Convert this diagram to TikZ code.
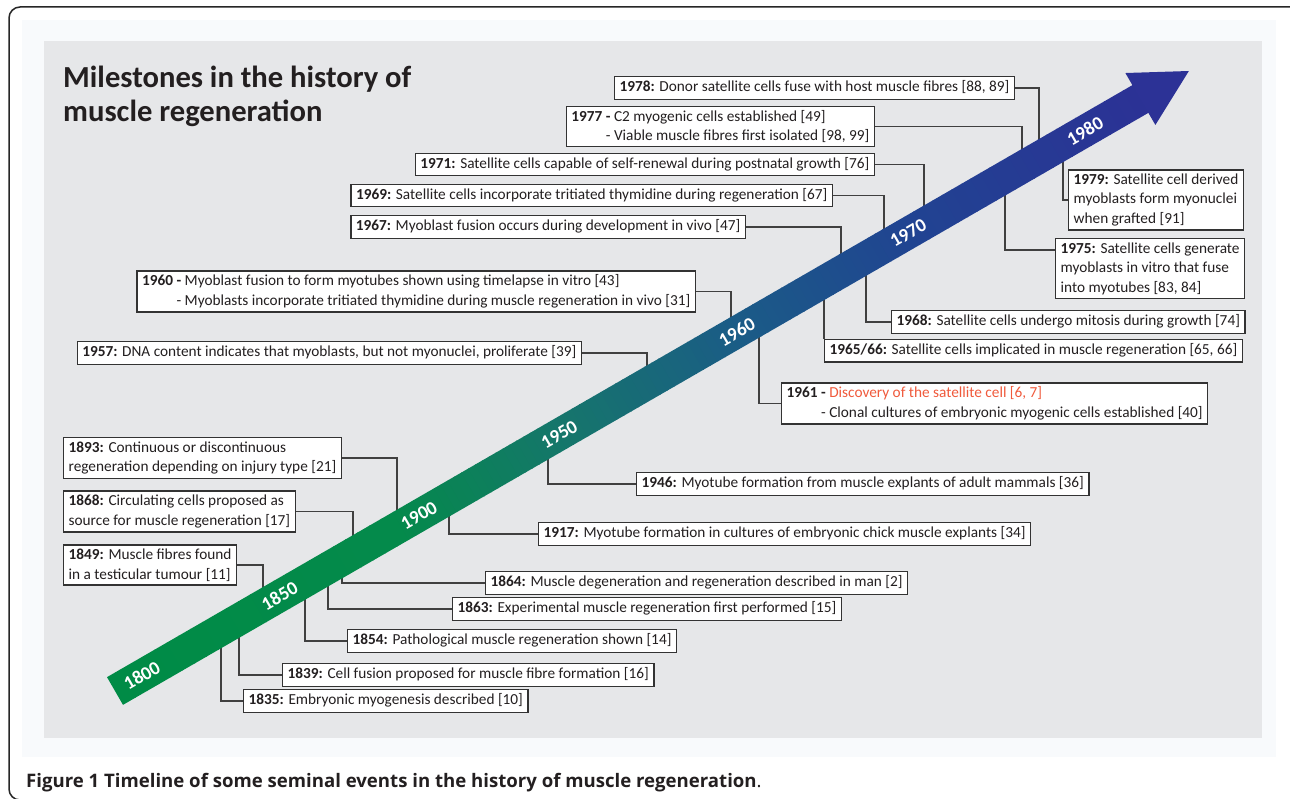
\documentclass[tikz,border=0pt]{standalone}
\usepackage{fontspec}
\setmainfont{Carlito}
\newfontfamily\capfont{Open Sans}
\definecolor{panelgray}{RGB}{230,231,233}
\definecolor{panellight}{RGB}{248,250,252}
\definecolor{discred}{RGB}{240,90,60}
\definecolor{headblue}{RGB}{44,50,150}
\definecolor{ink}{RGB}{35,31,32}
\newcommand\bandseg[8]{%
  \foreach \k in {0,...,23}{%
    \pgfmathsetmacro\ta{#1+(#2-#1)*\k/24}%
    \pgfmathsetmacro\tb{#1+(#2-#1)*(\k+1)/24+0.8}%
    \pgfmathtruncatemacro\cR{#3+(#6-#3)*(\k+0.5)/24}%
    \pgfmathtruncatemacro\cG{#4+(#7-#4)*(\k+0.5)/24}%
    \pgfmathtruncatemacro\cB{#5+(#8-#5)*(\k+0.5)/24}%
    \definecolor{bandc}{RGB}{\cR,\cG,\cB}%
    \fill[bandc] (\ta,-16) rectangle (\tb,16);
  }%
}
\begin{document}
\begin{tikzpicture}[x=1pt,y=-1pt,
  evt/.style={draw=black!80, line width=1.3pt, fill=white, text=ink, font=\fontsize{15.3}{19.5}\selectfont, inner xsep=5pt, inner ysep=4pt, align=left},
  evtone/.style={draw=black!80, line width=1.3pt, fill=white, text=ink, font=\fontsize{15.3}{19.5}\selectfont, inner xsep=5pt, inner ysep=4pt, text height=11pt, text depth=3.5pt},
  conn/.style={draw=black!75, line width=1.3pt},
  yr/.style={text=white, font=\fontsize{19}{19}\selectfont\bfseries, rotate=30, inner sep=0pt}]
\useasboundingbox (0,0) rectangle (1290,799);
\fill[white] (0,0) rectangle (1290,799);
\draw[line width=1.5pt, black!85, rounded corners=11pt] (9,7) rectangle (1320,800);
\fill[panellight] (22,20) rectangle (1276,757);
\fill[panelgray] (44,41) rectangle (1262,738);

\node[anchor=base west, align=left, inner sep=0pt, font=\fontsize{30.6}{34}\selectfont\bfseries, text=ink] (title) at (63,122) {Milestones in the history of\\muscle regeneration};

% event boxes above-left
\node[evtone, anchor=east] (b1978) at (1015,88) {\textbf{1978:} Donor satellite cells fuse with host muscle fibres [88, 89]};
\node[evt, anchor=east] (b1977) at (875,126.5) {\textbf{1977 -} C2 myogenic cells established [49]\\\phantom{\textbf{1977 -} }\llap{- }Viable muscle fibres first isolated [98, 99]};
\node[evtone, anchor=east] (b1971) at (875,164.5) {\textbf{1971:} Satellite cells capable of self-renewal during postnatal growth [76]};
\node[evtone, anchor=east] (b1969) at (833,195.5) {\textbf{1969:} Satellite cells incorporate tritiated thymidine during regeneration [67]};
\node[evtone, anchor=east] (b1967) at (746,227) {\textbf{1967:} Myoblast fusion occurs during development in vivo [47]};
\node[evt, anchor=east] (b1960) at (696,291.5) {\textbf{1960 -} Myoblast fusion to form myotubes shown using timelapse in vitro [43]\\\phantom{\textbf{1960 -} }\llap{- }Myoblasts incorporate tritiated thymidine during muscle regeneration in vivo [31]};
\node[evtone, anchor=east] (b1957) at (582,353) {\textbf{1957:} DNA content indicates that myoblasts, but not myonuclei, proliferate [39]};
\node[evt, anchor=west] (b1893) at (63,458) {\textbf{1893:} Continuous or discontinuous\\regeneration depending on injury type [21]};
\node[evt, anchor=west] (b1868) at (63,511.5) {\textbf{1868:} Circulating cells proposed as\\source for muscle regeneration [17]};
\node[evt, anchor=west] (b1849) at (63,565) {\textbf{1849:} Muscle fibres found\\in a testicular tumour [11]};

% event boxes below-right
\node[evtone, anchor=west] (b1835) at (243,701) {\textbf{1835:} Embryonic myogenesis described [10]};
\node[evtone, anchor=west] (b1839) at (282,675) {\textbf{1839:} Cell fusion proposed for muscle fibre formation [16]};
\node[evtone, anchor=west] (b1854) at (347,641) {\textbf{1854:} Pathological muscle regeneration shown [14]};
\node[evtone, anchor=west] (b1863) at (452,609) {\textbf{1863:} Experimental muscle regeneration first performed [15]};
\node[evtone, anchor=west] (b1864) at (485,583) {\textbf{1864:} Muscle degeneration and regeneration described in man [2]};
\node[evtone, anchor=west] (b1917) at (538,534) {\textbf{1917:} Myotube formation in cultures of embryonic chick muscle explants [34]};
\node[evtone, anchor=west] (b1946) at (636,484) {\textbf{1946:} Myotube formation from muscle explants of adult mammals [36]};
\node[evt, anchor=west] (b1961) at (781,403.5) {\textbf{1961 -} \textcolor{discred}{Discovery of the satellite cell [6, 7]}\\\phantom{\textbf{1961 -} }\llap{- }Clonal cultures of embryonic myogenic cells established [40]};
\node[evtone, anchor=north west] (b1965) at (824,339) {\textbf{1965/66:} Satellite cells implicated in muscle regeneration [65, 66]};
\node[evtone, anchor=west] (b1968) at (891,322) {\textbf{1968:} Satellite cells undergo mitosis during growth [74]};
\node[evt, anchor=north west] (b1975) at (1055,238) {\textbf{1975:} Satellite cells generate\\myoblasts in vitro that fuse\\into myotubes [83, 84]};
\node[evt, anchor=west] (b1979) at (1068,200) {\textbf{1979:} Satellite cell derived\\myoblasts form myonuclei\\when grafted [91]};

% attach points on the band
\coordinate (u1978) at (1039,141);
\coordinate (u1977) at (1022,151);
\coordinate (u1971) at (924,208);
\coordinate (u1969) at (884,231);
\coordinate (u1967) at (841,256);
\coordinate (u1960) at (731,319);
\coordinate (u1957) at (647,368);
\coordinate (u1893) at (397,512);
\coordinate (u1868) at (353,538);
\coordinate (u1849) at (263,590);
\coordinate (l1835) at (221,645);
\coordinate (l1839) at (239,635);
\coordinate (l1854) at (305,597);
\coordinate (l1863) at (328,583);
\coordinate (l1864) at (342,575);
\coordinate (l1917) at (449,514);
\coordinate (l1946) at (548,456);
\coordinate (l1961) at (759,334);
\coordinate (l1965) at (824,297);
\coordinate (l1968) at (866,272);
\coordinate (l1975) at (1005,192);
\coordinate (l1979) at (1063,159);

% connectors
\draw[conn] (b1978.east) -| (u1978);
\draw[conn] (b1977.east) -| (u1977);
\draw[conn] (b1971.east) -| (u1971);
\draw[conn] (b1969.east) -| (u1969);
\draw[conn] (b1967.east) -| (u1967);
\draw[conn] (b1960.east) -| (u1960);
\draw[conn] (b1957.east) -| (u1957);
\draw[conn] (b1893.east) -| (u1893);
\draw[conn] (b1868.east) -| (u1868);
\draw[conn] (b1849.east) -| (u1849);
\draw[conn] (l1835) |- (b1835.west);
\draw[conn] (l1839) |- (b1839.west);
\draw[conn] (l1854) |- (b1854.west);
\draw[conn] (l1863) |- (b1863.west);
\draw[conn] (l1864) |- (b1864.west);
\draw[conn] (l1917) |- (b1917.west);
\draw[conn] (l1946) |- (b1946.west);
\draw[conn] (l1961) |- (b1961.west);
\draw[conn] (l1965) -- (b1965.north west);
\draw[conn] (l1968) |- (b1968.west);
\draw[conn] (l1975) |- ([yshift=-12pt]b1975.north west);
\draw[conn] (l1979) |- (b1979.west);

% the timeline band
\begin{scope}[shift={(115,691)}, rotate=30]
  \bandseg{0}{330}{0}{140}{70}{5}{138}{76}
  \bandseg{330}{520}{5}{138}{76}{22}{118}{108}
  \bandseg{520}{720}{22}{118}{108}{27}{92}{135}
  \bandseg{720}{920}{27}{92}{135}{33}{68}{146}
  \bandseg{920}{1184}{33}{68}{146}{44}{50}{150}
  \fill[headblue] (1184,-30) -- (1240,0) -- (1184,30) -- cycle;
  \node[yr] (y1800) at (31,0) {1800};
  \node[yr] (y1850) at (190,0) {1850};
  \node[yr] (y1900) at (351,0) {1900};
  \node[yr] (y1950) at (513,0) {1950};
  \node[yr] (y1960) at (718,0) {1960};
  \node[yr] (y1970) at (916,0) {1970};
  \node[yr] (y1980) at (1120,0) {1980};
\end{scope}

\node[anchor=base west, inner sep=0pt, text=ink, font=\capfont\fontsize{18.6}{19}\selectfont] (caption) at (26,787) {\textbf{Figure 1 Timeline of some seminal events in the history of muscle regeneration}.};
\end{tikzpicture}
\end{document}
